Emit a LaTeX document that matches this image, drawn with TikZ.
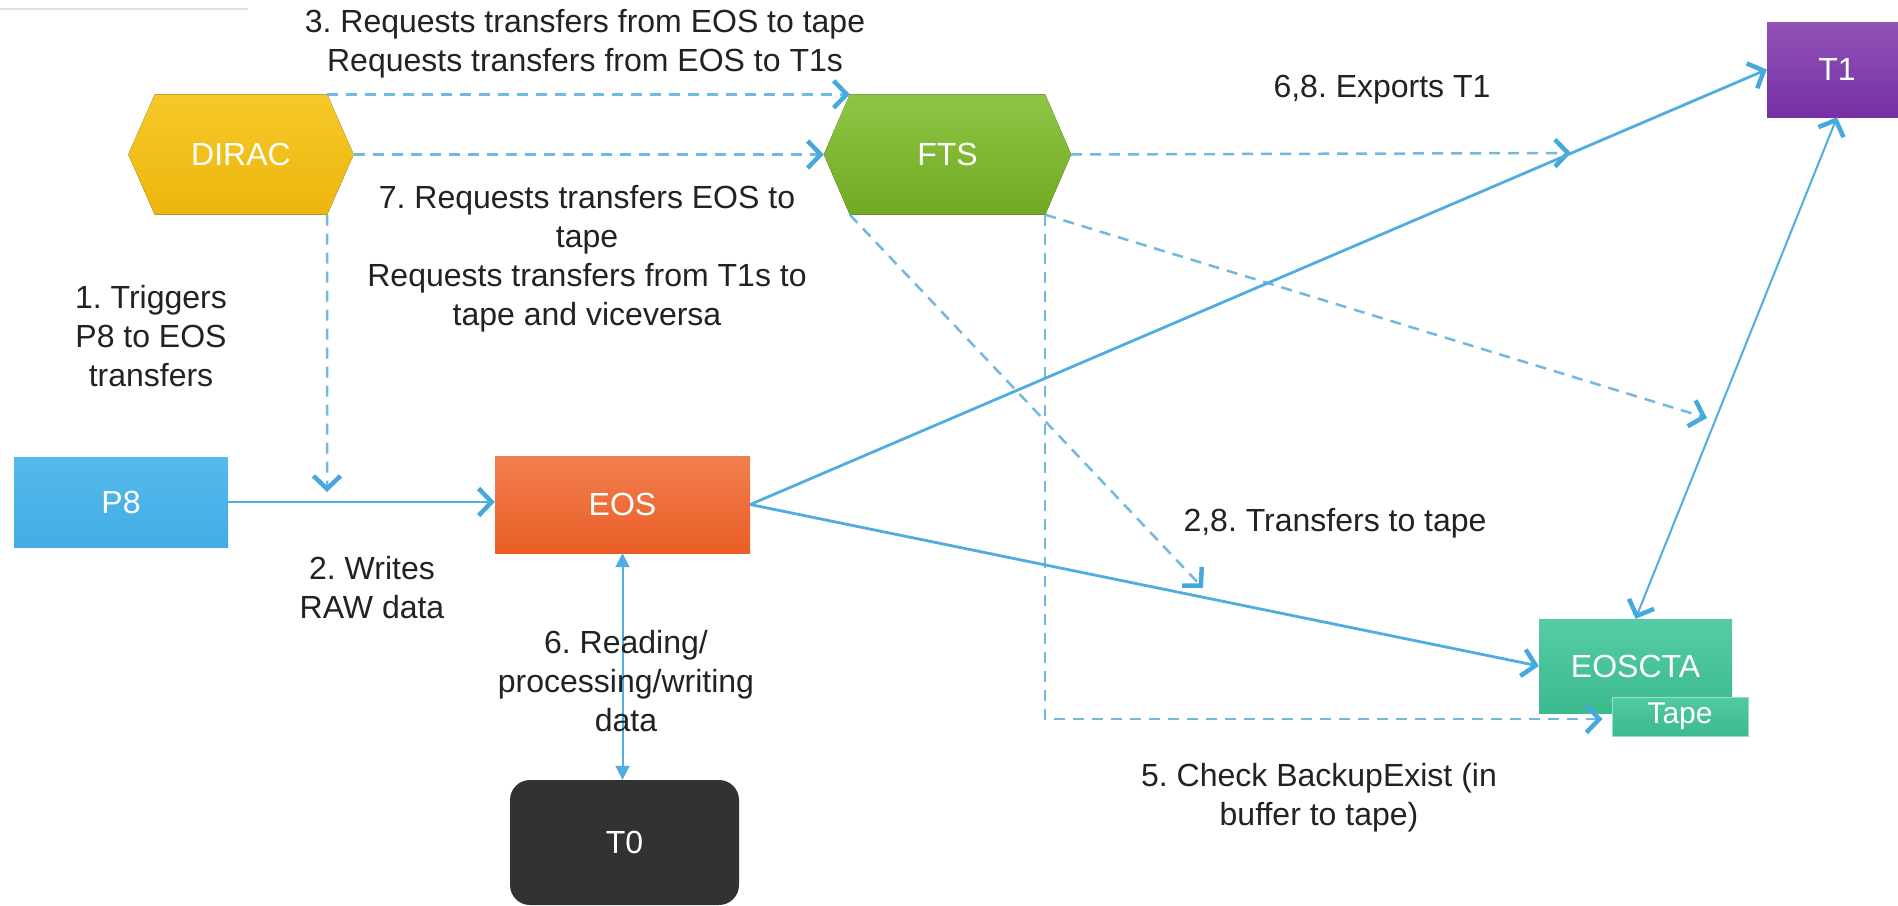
\documentclass[tikz,border=0pt]{standalone}
\usepackage{fontspec}
\setmainfont{Liberation Sans}
\usetikzlibrary{arrows.meta,backgrounds,calc}
\definecolor{txt}{HTML}{222222}
\definecolor{solc}{HTML}{4FAEDF}
\definecolor{dashc}{HTML}{72B8DF}
\definecolor{tipc}{HTML}{45A9DE}
\definecolor{diracT}{HTML}{F6C928}
\definecolor{diracB}{HTML}{EDB60E}
\definecolor{ftsT}{HTML}{8EC545}
\definecolor{ftsB}{HTML}{71AA22}
\definecolor{t1T}{HTML}{9252B6}
\definecolor{t1B}{HTML}{7530A5}
\definecolor{p8T}{HTML}{55BAEC}
\definecolor{p8B}{HTML}{42ACE5}
\definecolor{eosT}{HTML}{F17F50}
\definecolor{eosB}{HTML}{EA5E25}
\definecolor{t0c}{HTML}{323232}
\definecolor{ctaT}{HTML}{55CCA5}
\definecolor{ctaB}{HTML}{3CBA8D}
\definecolor{topline}{HTML}{DCDFE9}
\frenchspacing
\tikzset{
  lbl/.style={font=\fontsize{32}{39}\selectfont, text=txt, align=center, inner sep=0pt},
  boxtext/.style={font=\fontsize{32}{38}\selectfont, text=white, inner sep=0pt},
  chev/.tip={Straight Barb[length=13pt,width=27pt,line width=4.5pt,color=tipc]},
  dsh/.style={draw=dashc, line width=2.5pt, dash pattern=on 11pt off 8pt, -chev},
  sol/.style={draw=solc, line width=2.8pt, -chev},
  solthin/.style={draw=solc, line width=2pt, chev-chev},
  tri/.tip={Triangle[length=14pt,width=14pt]},
  soltri/.style={draw=solc, line width=2pt, tri-tri},
}
\begin{document}
\begin{tikzpicture}[x=1pt,y=-1pt]
\useasboundingbox (0,0) rectangle (1898,905);
\clip (0,0) rectangle (1898,905);
\draw[topline, line width=2pt] (0,9) -- (248,9);

% nodes
\node[boxtext, minimum width=172pt, minimum height=120pt] (dirac) at (241,154.5) {DIRAC};
\node[boxtext, minimum width=195pt, minimum height=120pt] (fts) at (947.5,154.5) {FTS};
\node[boxtext, minimum width=140pt, minimum height=95pt, top color=t1T, bottom color=t1B] (t1) at (1837,69.5) {T1};
\node[boxtext, minimum width=214pt, minimum height=90pt, top color=p8T, bottom color=p8B] (p8) at (121,502) {P8};
\node[boxtext, minimum width=255pt, minimum height=97pt, top color=eosT, bottom color=eosB] (eos) at (622.5,504.5) {EOS};
\node[boxtext, minimum width=229pt, minimum height=125pt, fill=t0c, rounded corners=20pt] (t0) at (624.5,842.5) {T0};
\node[boxtext, minimum width=193pt, minimum height=94pt, top color=ctaT, bottom color=ctaB] (eoscta) at (1635.5,666) {EOSCTA};
\node[boxtext, font=\fontsize{30}{36}\selectfont, minimum width=136pt, minimum height=39pt, top color=ctaT!85!ctaB, bottom color=ctaB, draw=ctaT!60!white, line width=1pt] (tape) at (1680,716.5) {Tape};

\begin{scope}[on background layer]
\fill[white] (0,0) rectangle (1898,905);
\fill[top color=diracT, bottom color=diracB] (dirac.north west) -- (dirac.north east) -- ([xshift=26.5pt]dirac.east) -- (dirac.south east) -- (dirac.south west) -- ([xshift=-26.5pt]dirac.west) -- cycle;
\fill[top color=ftsT, bottom color=ftsB] (fts.north west) -- (fts.north east) -- ([xshift=26pt]fts.east) -- (fts.south east) -- (fts.south west) -- ([xshift=-26pt]fts.west) -- cycle;
\end{scope}

% free ends
\coordinate (trig) at (327,492);
\coordinate (expt) at (1571,153);
\coordinate (ttape) at (1203,588);
\coordinate (tone) at (1707,418);

% dashed connectors
\draw[dsh] (dirac.north east) -- (fts.north west);
\draw[dsh] ([xshift=26.5pt]dirac.east) -- ([xshift=-26pt]fts.west);
\draw[dsh] (dirac.south east) -- (trig);
\draw[dsh] ([xshift=26pt]fts.east) -- (expt);
\draw[dsh] (fts.south west) -- (ttape);
\draw[dsh] (fts.south east) -- (tone);
\draw[dsh] (fts.south east) |- ([xshift=-9pt,yshift=-2.5pt]tape.west);

% solid connectors
\draw[sol] (p8.east) -- (p8.east -| eos.west);
\draw[sol] (eos.east) -- (t1.west);
\draw[sol] (eos.east) -- (eoscta.west);
\draw[soltri] (eos.south) -- (eos.south |- t0.north);
\draw[solthin] (eoscta.north) -- (t1.south);

% labels
\node[lbl] (l3) at (585,44) {3. Requests transfers from EOS to tape\\Requests transfers from EOS to T1s};
\node[lbl] (l68) at (1382,90) {6,8. Exports T1};
\node[lbl] (l7) at (587,259) {7. Requests transfers EOS to\\tape\\Requests transfers from T1s to\\tape and viceversa};
\node[lbl] (l1) at (151,336) {1. Triggers\\P8 to EOS\\transfers};
\node[lbl] (l2) at (372,588) {2. Writes\\RAW data};
\node[lbl] (l6) at (626,681) {6. Reading/\\processing/writing\\data};
\node[lbl] (l28) at (1335,523) {2,8. Transfers to tape};
\node[lbl] (l5) at (1319,798) {5. Check BackupExist (in\\buffer to tape)};
\end{tikzpicture}
\end{document}
